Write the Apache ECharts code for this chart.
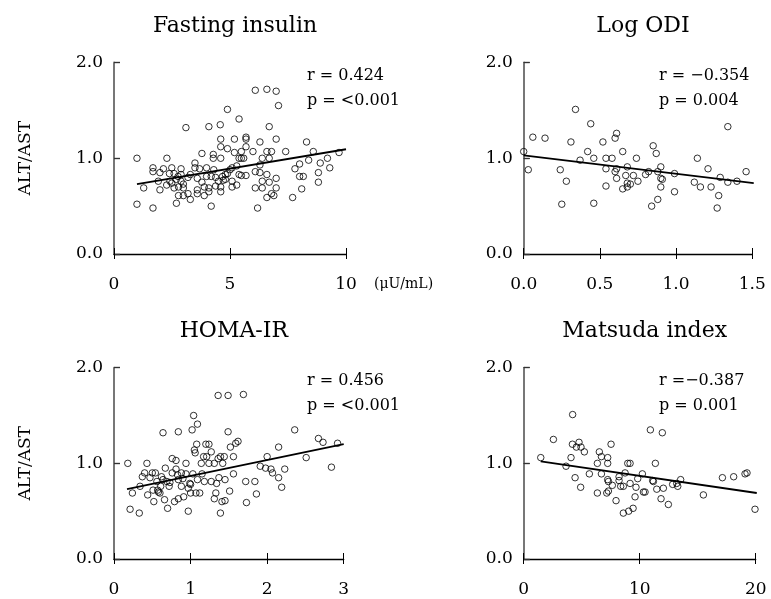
<!DOCTYPE html>
<html><head><meta charset="utf-8">
<script src="https://cdn.jsdelivr.net/npm/echarts@6/dist/echarts.min.js"></script>
<style>html,body{margin:0;padding:0;background:#fff}#c{width:771px;height:599px}</style>
</head><body><div id="c"></div>
<script>
// ---- data ----
var insulinX = [0.99,0.99,1.28,1.68,1.68,1.68,1.98,1.91,1.98,2.28,2.27,2.39,2.49,2.49,2.59,2.69,2.76,2.78,2.89,2.89,2.89,2.99,2.78,2.99,3.10,3.19,3.29,3.29,3.49,3.49,3.59,3.59,3.69,3.79,3.79,3.89,3.99,3.99,4.09,4.09,4.09,4.19,4.28,4.28,4.30,4.38,4.58,4.60,4.60,4.60,4.60,4.60,4.68,4.71,4.80,4.89,4.89,4.89,5.00,5.09,5.09,5.19,5.19,5.29,5.39,5.39,5.39,5.49,5.59,5.49,5.69,5.69,5.69,5.69,5.49,5.99,6.09,6.09,6.09,6.19,6.29,6.29,6.29,6.39,6.39,6.39,6.59,6.59,6.59,6.59,6.69,6.69,6.69,6.79,6.79,6.89,6.99,7.09,6.99,6.99,6.99,7.40,7.70,7.80,8.00,8.00,8.16,8.09,8.30,8.39,8.59,8.81,8.81,8.89,9.20,9.30,9.70,2.13,2.41,2.59,2.99,3.19,3.89,4.19,4.50,4.80,5.09,5.29,3.59,4.38,2.69];
var insulinY = [1.00,0.52,0.69,0.48,0.90,0.86,0.85,0.76,0.67,1.00,0.72,0.84,0.90,0.74,0.69,0.53,0.81,0.70,0.89,0.83,0.76,0.69,0.61,0.61,1.32,0.63,0.57,0.83,0.95,0.90,0.79,0.63,0.89,1.05,0.75,0.61,0.90,0.81,1.33,0.69,0.65,0.50,1.04,1.00,0.88,0.71,1.35,1.20,1.12,1.00,0.70,0.65,0.81,0.77,0.78,1.51,1.10,0.84,0.88,0.90,0.70,1.20,1.06,0.72,1.41,1.00,0.83,1.00,1.00,1.07,1.22,1.20,1.12,0.82,0.82,1.07,1.71,0.86,0.69,0.48,1.17,0.93,0.85,1.00,0.76,0.69,1.72,1.07,0.83,0.59,1.33,1.00,0.75,1.07,0.63,0.61,1.70,1.55,1.20,0.79,0.69,1.07,0.59,0.89,0.94,0.81,0.81,0.68,1.17,0.98,1.07,0.85,0.75,0.95,1.00,0.90,1.06,0.89,0.76,0.84,0.73,0.80,0.70,0.81,0.76,0.83,0.76,0.92,0.67,0.80,0.78];
var insulinFit = [[0.99, 0.73], [10.0, 1.094]];

var odiX = [0.00,0.03,0.06,0.14,0.24,0.25,0.28,0.31,0.34,0.37,0.42,0.44,0.46,0.46,0.52,0.54,0.54,0.54,0.58,0.60,0.61,0.60,0.61,0.61,0.65,0.65,0.67,0.68,0.68,0.68,0.70,0.72,0.74,0.75,0.80,0.82,0.85,0.87,0.84,0.88,0.88,0.90,0.90,0.91,0.90,0.99,0.99,1.12,1.14,1.16,1.21,1.23,1.27,1.28,1.29,1.34,1.34,1.40,1.46];
var odiY = [1.07,0.88,1.22,1.21,0.88,0.52,0.76,1.17,1.51,0.98,1.07,1.36,1.00,0.53,1.17,1.00,0.89,0.71,1.00,1.21,1.26,0.86,0.89,0.79,1.07,0.68,0.82,0.91,0.74,0.70,0.73,0.82,1.00,0.76,0.83,0.86,1.13,1.05,0.50,0.57,0.86,0.91,0.79,0.78,0.70,0.84,0.65,0.75,1.00,0.70,0.89,0.70,0.48,0.61,0.80,1.33,0.75,0.76,0.86];
var odiFit = [[0.0, 1.03], [1.51, 0.74]];

var homaX = [0.18,0.21,0.24,0.33,0.34,0.40,0.43,0.37,0.44,0.47,0.50,0.51,0.52,0.54,0.56,0.58,0.60,0.61,0.64,0.64,0.66,0.67,0.69,0.70,0.72,0.76,0.76,0.79,0.81,0.81,0.83,0.84,0.84,0.84,0.88,0.88,0.91,0.94,0.94,0.97,0.97,0.99,1.00,1.02,1.03,1.04,1.05,1.06,1.07,1.08,1.09,1.09,1.12,1.14,1.15,1.17,1.18,1.20,1.21,1.24,1.24,1.27,1.27,1.31,1.31,1.33,1.34,1.36,1.36,1.37,1.39,1.39,1.41,1.42,1.44,1.45,1.45,1.49,1.49,1.51,1.52,1.56,1.56,1.59,1.62,1.69,1.72,1.73,1.84,1.86,1.91,1.98,2.00,2.05,2.07,2.15,2.15,2.19,2.23,2.36,2.51,2.67,2.73,2.84,2.92,0.62,0.73,0.90,1.00,0.57];
var homaY = [1.00,0.52,0.69,0.48,0.76,0.90,1.00,0.86,0.67,0.85,0.90,0.72,0.60,0.90,0.81,0.70,0.69,0.76,1.32,0.83,0.62,0.95,0.81,0.53,0.76,1.05,0.90,0.60,1.03,0.94,0.88,1.33,0.83,0.63,0.90,0.76,0.65,1.00,0.89,0.50,0.74,0.79,0.69,1.35,0.89,1.50,1.14,1.11,0.69,1.20,1.41,0.83,0.69,1.00,0.89,1.07,0.81,1.20,1.07,1.00,1.20,1.12,0.81,0.63,1.00,0.69,0.79,1.71,1.05,0.85,0.48,1.07,0.60,1.00,1.07,0.61,0.83,1.71,1.33,0.71,1.17,0.89,1.07,1.21,1.23,1.72,0.81,0.59,0.81,0.68,0.97,0.95,1.07,0.94,0.90,1.17,0.85,0.75,0.94,1.35,1.06,1.26,1.22,0.96,1.21,0.86,0.80,0.84,0.78,0.72];
var homaFit = [[0.17, 0.73], [3.0, 1.20]];

var matsudaX = [1.47,2.56,3.65,4.08,4.22,4.20,4.43,4.54,4.77,4.91,4.94,5.23,5.66,6.35,6.35,6.52,6.70,6.70,7.16,7.24,7.24,7.24,7.30,7.30,7.53,7.64,7.96,8.22,8.22,8.36,8.59,8.59,8.74,8.97,9.17,9.05,9.17,9.43,9.60,9.68,9.83,10.23,10.32,10.46,10.92,11.12,11.18,11.35,11.47,11.84,11.95,12.04,12.47,12.84,13.19,13.28,13.53,15.49,17.13,18.10,19.08,19.25,19.94];
var matsudaY = [1.06,1.25,0.97,1.06,1.51,1.20,0.85,1.17,1.22,0.75,1.17,1.12,0.89,0.69,1.00,1.12,1.07,0.89,0.69,1.06,1.00,0.83,0.81,0.71,1.20,0.77,0.61,0.86,0.82,0.76,0.48,0.76,0.90,1.00,1.00,0.50,0.79,0.53,0.65,0.75,0.84,0.89,0.70,0.70,1.35,0.82,0.81,1.00,0.73,0.63,1.32,0.74,0.57,0.78,0.79,0.76,0.83,0.67,0.85,0.86,0.89,0.90,0.52];
var matsudaFit = [[1.47, 1.02], [20.09, 0.69]];

var yTicks = {min: 0, max: 2, interval: 1};
var panelTitles = ['Fasting insulin', 'Log ODI', 'HOMA-IR', 'Matsuda index'];
var statR = ['r = 0.424', 'r = \u22120.354', 'r = 0.456', 'r =\u22120.387'];
var statP = ['p = <0.001', 'p = 0.004', 'p = <0.001', 'p = 0.001'];
var xRanges = [[0, 10, 5], [0, 1.5, 0.5], [0, 3, 1], [0, 20, 10]];
var xDecimals = [0, 1, 0, 0];
var yLabel = 'ALT/AST';
var unitLabel = '(\u03bcU/mL)';

// ---- chart ----
var FONT = 'DejaVu Serif';
var grids = [
  {left: 114, top: 62.5, width: 232, height: 191.5},
  {left: 523.7, top: 62.5, width: 228.5, height: 191.5},
  {left: 114, top: 367.7, width: 229.7, height: 191.3},
  {left: 523.7, top: 367.7, width: 232, height: 191.3}
];
var seriesX = [insulinX, odiX, homaX, matsudaX];
var seriesY = [insulinY, odiY, homaY, matsudaY];
var fits = [insulinFit, odiFit, homaFit, matsudaFit];

var xAxes = [], yAxes = [], series = [], titles = [];
grids.forEach(function (g, i) {
  var r = xRanges[i];
  var dec = xDecimals[i];
  xAxes.push({
    gridIndex: i, type: 'value', min: r[0], max: r[1], interval: r[2], position: 'bottom',
    axisLine: {show: true, lineStyle: {color: '#000', width: 1.3}},
    axisTick: {show: true, inside: true, length: 6, lineStyle: {color: '#000', width: 1}},
    axisLabel: {show: true, margin: 22, color: '#000', fontFamily: FONT, fontSize: 17,
      formatter: function (v) { return v.toFixed(dec); }},
    splitLine: {show: false}
  });
  xAxes.push({
    gridIndex: i, type: 'value', min: r[0], max: r[1], interval: r[2], position: 'bottom',
    axisLine: {show: false},
    axisTick: {show: true, inside: false, length: 5, lineStyle: {color: '#000', width: 1}},
    axisLabel: {show: false}, splitLine: {show: false}
  });
  var showName = (i === 0 || i === 2);
  yAxes.push({
    gridIndex: i, type: 'value', min: yTicks.min, max: yTicks.max, interval: yTicks.interval,
    name: showName ? yLabel : '', nameLocation: 'middle', nameGap: 80, nameRotate: 90,
    nameTextStyle: {color: '#000', fontFamily: FONT, fontSize: 17},
    axisLine: {show: true, lineStyle: {color: '#777', width: 2}},
    axisTick: {show: true, inside: true, length: 6, lineStyle: {color: '#333', width: 1.2}},
    axisLabel: {show: true, margin: 11, color: '#000', fontFamily: FONT, fontSize: 17,
      formatter: function (v) { return v.toFixed(1); }},
    splitLine: {show: false}
  });
  yAxes.push({
    gridIndex: i, type: 'value', min: yTicks.min, max: yTicks.max, interval: yTicks.interval,
    axisLine: {show: false},
    axisTick: {show: true, inside: false, length: 6, lineStyle: {color: '#333', width: 1.2}},
    axisLabel: {show: false}, splitLine: {show: false}
  });
  series.push({
    type: 'scatter', xAxisIndex: 2 * i, yAxisIndex: 2 * i, symbol: 'circle', symbolSize: 6.5,
    itemStyle: {color: 'rgba(0,0,0,0)', borderColor: '#000', borderWidth: 1},
    data: seriesX[i].map(function (x, k) { return [x, seriesY[i][k]]; }),
    silent: true, z: 3
  });
  series.push({
    type: 'line', xAxisIndex: 2 * i, yAxisIndex: 2 * i, data: fits[i], symbol: 'none',
    lineStyle: {color: '#000', width: 1.8}, silent: true, z: 4
  });
  titles.push({
    text: panelTitles[i], left: g.left + g.width / 2, top: g.top - 52, textAlign: 'center',
    textStyle: {fontFamily: FONT, fontSize: 22, fontWeight: 'normal', color: '#000'}
  });
  titles.push({
    text: statR[i] + '\n' + statP[i], left: (i % 2 === 0) ? 302 : 654, top: g.top - 4,
    textStyle: {fontFamily: FONT, fontSize: 16, fontWeight: 'normal', color: '#000', lineHeight: 25}
  });
});
titles.push({
  text: unitLabel, left: 369, top: 272,
  textStyle: {fontFamily: FONT, fontSize: 14, fontWeight: 'normal', color: '#000'}
});

var chart = echarts.init(document.getElementById('c'), null, {renderer: 'canvas'});
chart.setOption({
  animation: false,
  backgroundColor: '#fff',
  title: titles,
  grid: grids,
  xAxis: xAxes,
  yAxis: yAxes,
  series: series
});
</script></body></html>
